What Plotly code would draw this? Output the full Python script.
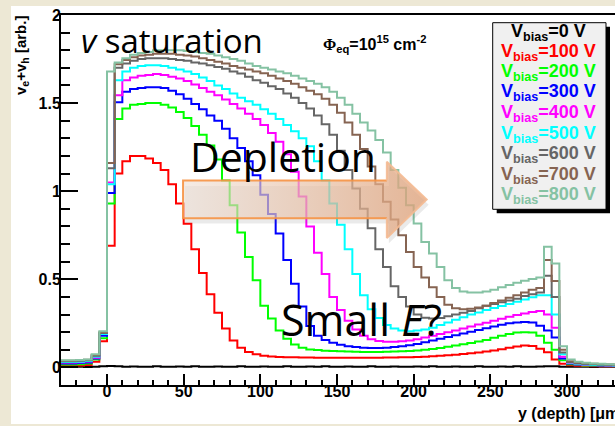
import numpy as np
import plotly.graph_objects as go

# ---------------------------------------------------------------
# Drift velocity sum (v_e + v_h) versus depth, 5 um bins, -30..335 um
# ---------------------------------------------------------------
bin_width = 5
bin_edges = np.arange(-30, 335 + bin_width, bin_width)

bias_labels = ["0 V", "100 V", "200 V", "300 V", "400 V",
               "500 V", "600 V", "700 V", "800 V"]

vel_0V = [0.003, 0.004, 0.003, 0.002, 0.004, 0.006,
          0.008, 0.006, 0.004, 0.005, 0.003, 0.004, 0.006, 0.004, 0.003, 0.005,
          0.004, 0.006, 0.003, 0.004, 0.005, 0.003, 0.004, 0.006, 0.004, 0.003,
          0.005, 0.004, 0.003, 0.006, 0.004, 0.003, 0.005, 0.004, 0.006, 0.003,
          0.004, 0.005, 0.003, 0.004, 0.006, 0.004, 0.003, 0.005, 0.004, 0.003,
          0.005, 0.004, 0.006, 0.003, 0.004, 0.005, 0.003, 0.004, 0.006, 0.004,
          0.003, 0.005, 0.004, 0.006, 0.004, 0.003, 0.005, 0.007, 0.006, 0.004,
          0.003, 0.004, 0.003, 0.002, 0.003, 0.004, 0.003]

vel_100V = [0.008, 0.008, 0.010, 0.014, 0.032, 0.148,
            0.69, 1.10, 1.17, 1.20, 1.20, 1.185, 1.16, 1.12, 1.04, 0.93,
            0.815, 0.67, 0.535, 0.415, 0.31, 0.22, 0.153, 0.112, 0.087, 0.074,
            0.066, 0.062, 0.059, 0.058, 0.057, 0.056, 0.056, 0.055, 0.055, 0.055,
            0.055, 0.054, 0.054, 0.055, 0.055, 0.055, 0.056, 0.056, 0.057, 0.058,
            0.059, 0.061, 0.063, 0.066, 0.069, 0.072, 0.076, 0.080, 0.085, 0.090,
            0.096, 0.103, 0.112, 0.119, 0.124, 0.121, 0.106, 0.086, 0.045, 0.020,
            0.012, 0.009, 0.008, 0.007, 0.007, 0.006, 0.006]

vel_200V = [0.016, 0.016, 0.018, 0.022, 0.045, 0.165,
            0.93, 1.41, 1.47, 1.49, 1.495, 1.50, 1.50, 1.49, 1.475, 1.45,
            1.415, 1.37, 1.32, 1.26, 1.18, 1.06, 0.92, 0.765, 0.627, 0.494,
            0.35, 0.277, 0.21, 0.163, 0.13, 0.112, 0.102, 0.098, 0.095, 0.093,
            0.091, 0.090, 0.089, 0.088, 0.088, 0.088, 0.089, 0.090, 0.091, 0.093,
            0.096, 0.100, 0.105, 0.110, 0.117, 0.124, 0.131, 0.139, 0.147, 0.156,
            0.168, 0.180, 0.190, 0.198, 0.200, 0.198, 0.180, 0.140, 0.100, 0.040,
            0.018, 0.013, 0.011, 0.010, 0.009, 0.009, 0.008]

vel_300V = [0.022, 0.022, 0.025, 0.028, 0.050, 0.180,
            0.99, 1.505, 1.565, 1.58, 1.585, 1.59, 1.59, 1.585, 1.57, 1.55,
            1.525, 1.495, 1.465, 1.43, 1.40, 1.355, 1.30, 1.245, 1.17, 1.09,
            0.98, 0.87, 0.76, 0.61, 0.475, 0.345, 0.235, 0.18, 0.155, 0.14,
            0.128, 0.120, 0.115, 0.112, 0.110, 0.110, 0.112, 0.115, 0.120, 0.125,
            0.133, 0.142, 0.152, 0.162, 0.172, 0.182, 0.192, 0.202, 0.212, 0.222,
            0.232, 0.242, 0.250, 0.255, 0.258, 0.255, 0.236, 0.210, 0.170, 0.050,
            0.022, 0.016, 0.013, 0.012, 0.011, 0.010, 0.010]

vel_400V = [0.027, 0.027, 0.029, 0.033, 0.055, 0.190,
            1.05, 1.545, 1.63, 1.645, 1.655, 1.66, 1.665, 1.66, 1.65, 1.64,
            1.625, 1.605, 1.585, 1.565, 1.545, 1.52, 1.495, 1.47, 1.44, 1.41,
            1.375, 1.33, 1.28, 1.21, 1.11, 0.97, 0.80, 0.65, 0.53, 0.40,
            0.325, 0.265, 0.215, 0.180, 0.160, 0.150, 0.145, 0.145, 0.148, 0.152,
            0.160, 0.170, 0.180, 0.190, 0.200, 0.210, 0.220, 0.232, 0.243, 0.254,
            0.265, 0.276, 0.287, 0.297, 0.306, 0.314, 0.320, 0.300, 0.225, 0.060,
            0.025, 0.018, 0.015, 0.013, 0.012, 0.011, 0.010]

vel_500V = [0.030, 0.030, 0.032, 0.036, 0.060, 0.190,
            1.04, 1.63, 1.68, 1.70, 1.71, 1.715, 1.715, 1.71, 1.70, 1.69,
            1.68, 1.665, 1.645, 1.625, 1.60, 1.58, 1.555, 1.53, 1.51, 1.49,
            1.465, 1.44, 1.41, 1.375, 1.34, 1.30, 1.255, 1.17, 1.06, 0.93,
            0.81, 0.67, 0.53, 0.41, 0.33, 0.28, 0.24, 0.22, 0.21, 0.205,
            0.210, 0.215, 0.225, 0.240, 0.255, 0.270, 0.285, 0.300, 0.312, 0.325,
            0.337, 0.349, 0.360, 0.372, 0.385, 0.398, 0.410, 0.410, 0.300, 0.075,
            0.027, 0.020, 0.016, 0.014, 0.013, 0.012, 0.011]

vel_600V = [0.035, 0.035, 0.037, 0.040, 0.066, 0.195,
            1.13, 1.70, 1.725, 1.74, 1.75, 1.755, 1.755, 1.755, 1.75, 1.745,
            1.74, 1.73, 1.725, 1.715, 1.705, 1.695, 1.68, 1.668, 1.65, 1.63,
            1.615, 1.595, 1.58, 1.555, 1.53, 1.50, 1.47, 1.43, 1.38, 1.32,
            1.23, 1.12, 1.015, 0.90, 0.79, 0.67, 0.57, 0.46, 0.40, 0.345,
            0.300, 0.282, 0.277, 0.280, 0.290, 0.300, 0.310, 0.320, 0.335, 0.350,
            0.360, 0.370, 0.380, 0.390, 0.405, 0.415, 0.425, 0.520, 0.400, 0.085,
            0.030, 0.024, 0.020, 0.018, 0.016, 0.015, 0.014]

vel_700V = [0.037, 0.037, 0.040, 0.043, 0.070, 0.200,
            1.16, 1.72, 1.745, 1.76, 1.77, 1.775, 1.78, 1.78, 1.78, 1.775,
            1.77, 1.765, 1.755, 1.745, 1.735, 1.725, 1.71, 1.70, 1.69, 1.68,
            1.67, 1.655, 1.64, 1.625, 1.61, 1.59, 1.57, 1.55, 1.525, 1.49,
            1.445, 1.39, 1.32, 1.24, 1.14, 1.04, 0.94, 0.84, 0.75, 0.655,
            0.570, 0.510, 0.455, 0.400, 0.355, 0.335, 0.330, 0.333, 0.340, 0.350,
            0.365, 0.380, 0.395, 0.410, 0.425, 0.440, 0.450, 0.610, 0.490, 0.100,
            0.035, 0.027, 0.022, 0.020, 0.018, 0.017, 0.016]

vel_800V = [0.040, 0.040, 0.042, 0.045, 0.075, 0.205,
            1.68, 1.73, 1.755, 1.775, 1.785, 1.79, 1.80, 1.80, 1.80, 1.80,
            1.795, 1.79, 1.785, 1.78, 1.77, 1.76, 1.75, 1.74, 1.725, 1.71,
            1.70, 1.69, 1.68, 1.67, 1.655, 1.64, 1.625, 1.61, 1.59, 1.565,
            1.53, 1.49, 1.44, 1.39, 1.345, 1.29, 1.22, 1.12, 1.02, 0.92,
            0.816, 0.712, 0.646, 0.570, 0.495, 0.450, 0.430, 0.425, 0.425, 0.430,
            0.440, 0.455, 0.468, 0.480, 0.492, 0.502, 0.510, 0.684, 0.590, 0.120,
            0.045, 0.032, 0.026, 0.022, 0.020, 0.018, 0.017]

series = [vel_0V, vel_100V, vel_200V, vel_300V, vel_400V,
          vel_500V, vel_600V, vel_700V, vel_800V]

line_colors = ["#000000", "#FF0000", "#00FF00", "#0000FF", "#FF00FF",
               "#00FFFF", "#666666", "#866452", "#85C2A3"]

# ---------------------------------------------------------------
# Figure geometry helpers (pixel -> paper coordinates)
# ---------------------------------------------------------------
W, H = 615, 426
ML, MR, MT, MB = 61, 0, 15, 41
PW, PH = W - ML - MR, H - MT - MB


def px_x(px):
    return (px - ML) / PW


def px_y(py):
    return (H - MB - py) / PH


fig = go.Figure()

# step histograms
for vals, color, lab in zip(series, line_colors, bias_labels):
    fig.add_trace(go.Scatter(
        x=bin_edges, y=list(vals) + [vals[-1]],
        mode="lines", line=dict(color=color, width=2, shape="hv"),
        name=lab, showlegend=False, hoverinfo="skip"))

# "Depletion" arrow (translucent, gradient filled)
ax_body_l, ax_head_l, ax_tip = 49.6, 182.5, 208.5
ay_body_t, ay_body_b = 1.06, 0.846
ay_head_t, ay_head_b, ay_tip = 1.167, 0.734, 0.953
arrow_x = [ax_body_l, ax_head_l, ax_head_l, ax_tip, ax_head_l, ax_head_l, ax_body_l, ax_body_l]
arrow_y = [ay_body_t, ay_body_t, ay_head_t, ay_tip, ay_head_b, ay_body_b, ay_body_b, ay_body_t]

fig.add_trace(go.Scatter(
    x=[v + 1.3 for v in arrow_x], y=[v - 0.03 for v in arrow_y],
    mode="lines", fill="toself", fillcolor="rgba(90,90,90,0.13)",
    line=dict(width=0), showlegend=False, hoverinfo="skip"))
fig.add_trace(go.Scatter(
    x=arrow_x, y=arrow_y, mode="lines", fill="toself",
    fillgradient=dict(type="horizontal",
                      colorscale=[[0, "rgba(238,224,214,0.62)"],
                                  [1, "rgba(226,162,120,0.75)"]]),
    line=dict(width=0), showlegend=False, hoverinfo="skip"))
fig.add_trace(go.Scatter(
    x=[ax_head_l, ax_body_l, ax_body_l, ax_head_l],
    y=[ay_body_t, ay_body_t, ay_body_b, ay_body_b],
    mode="lines", line=dict(color="rgba(246,146,66,0.9)", width=2),
    showlegend=False, hoverinfo="skip"))
fig.add_trace(go.Scatter(
    x=[ax_head_l, ax_head_l, ax_tip, ax_head_l, ax_head_l],
    y=[ay_body_t, ay_head_t, ay_tip, ay_head_b, ay_body_b],
    mode="lines", line=dict(color="rgba(244,186,146,0.9)", width=2),
    showlegend=False, hoverinfo="skip"))

shapes = [
    # white canvas on the beige page
    dict(type="rect", xref="paper", yref="paper", layer="below",
         x0=px_x(11), x1=px_x(640), y0=px_y(424), y1=px_y(6),
         fillcolor="white", line=dict(width=0)),
    # legend shadow and box
    dict(type="rect", xref="paper", yref="paper",
         x0=px_x(496.7), x1=px_x(610), y0=px_y(213.3), y1=px_y(26.7),
         fillcolor="black", line=dict(width=0)),
    dict(type="rect", xref="paper", yref="paper",
         x0=px_x(492.7), x1=px_x(606), y0=px_y(209.3), y1=px_y(22.7),
         fillcolor="#F0F0F0", line=dict(color="black", width=1)),
]

annotations = []
helv = "Liberation Sans, Arial, Helvetica, sans-serif"
calib = "Open Sans, Lato, sans-serif"

# legend entries
legend_baselines = [36.7, 56.5, 77, 97, 117.5, 138, 158.5, 179, 199.5]
for lab, color, base in zip(bias_labels, line_colors, legend_baselines):
    annotations.append(dict(
        text="V<sub>bias</sub>=" + lab, x=px_x(548), y=px_y(base - 4),
        xref="paper", yref="paper", xanchor="center", yanchor="middle",
        showarrow=False, font=dict(family=helv, size=18, color=color, weight="bold")))

annotations += [
    dict(text="<i>v</i> saturation", x=px_x(79), y=px_y(41),
         xref="paper", yref="paper", xanchor="left", yanchor="middle",
         showarrow=False, font=dict(family=calib, size=33, color="black")),
    dict(text="Depletion", x=px_x(188), y=px_y(156),
         xref="paper", yref="paper", xanchor="left", yanchor="middle",
         showarrow=False, font=dict(family=calib, size=41, color="black")),
    dict(text="Small <i>E</i>?", x=px_x(279), y=px_y(319),
         xref="paper", yref="paper", xanchor="left", yanchor="middle",
         showarrow=False, font=dict(family=calib, size=43, color="black")),
    dict(text="<span style='font-family:Liberation Serif'>Φ</span><sub>eq</sub>=10<sup>15</sup> cm<sup>-2</sup>",
         x=px_x(321), y=px_y(44), xref="paper", yref="paper",
         xanchor="left", yanchor="middle", showarrow=False,
         font=dict(family=helv, size=16, color="black", weight="bold")),
    dict(text="v<sub>e</sub>+v<sub>h</sub> [arb.]", x=px_x(22), y=px_y(56),
         xref="paper", yref="paper", xanchor="center", yanchor="middle",
         textangle=-90, showarrow=False,
         font=dict(family=helv, size=15, color="black", weight="bold")),
    dict(text="y (depth) [μm]", x=px_x(516), y=px_y(413),
         xref="paper", yref="paper", xanchor="left", yanchor="middle",
         showarrow=False, font=dict(family=helv, size=16, color="black", weight="bold")),
]

tickfont = dict(family=helv, size=16, color="black", weight="bold")

fig.update_layout(
    width=W, height=H,
    margin=dict(l=ML, r=MR, t=MT, b=MB, pad=0),
    paper_bgcolor="#EDE8D5",
    plot_bgcolor="white",
    showlegend=False,
    shapes=shapes,
    annotations=annotations,
    xaxis=dict(range=[-30, 331.3], tick0=0, dtick=50, ticks="inside",
               ticklen=11, tickwidth=1.5, tickcolor="black",
               showline=True, linecolor="black", linewidth=2, mirror=True,
               showgrid=False, zeroline=False, tickfont=tickfont,
               ticklabelstandoff=-9,
               minor=dict(ticks="inside", tick0=0, dtick=10, ticklen=5.5,
                          tickwidth=1.5, tickcolor="black", showgrid=False)),
    yaxis=dict(range=[-0.1, 2.0], tick0=0, dtick=0.5, ticks="inside",
               ticklen=17, tickwidth=1.5, tickcolor="black",
               showline=True, linecolor="black", linewidth=2, mirror=False,
               showgrid=False, zeroline=False, tickfont=tickfont,
               ticklabelstandoff=-5,
               minor=dict(ticks="inside", tick0=0, dtick=0.1, ticklen=9,
                          tickwidth=1.5, tickcolor="black", showgrid=False)),
)

fig.write_html("out.html")
